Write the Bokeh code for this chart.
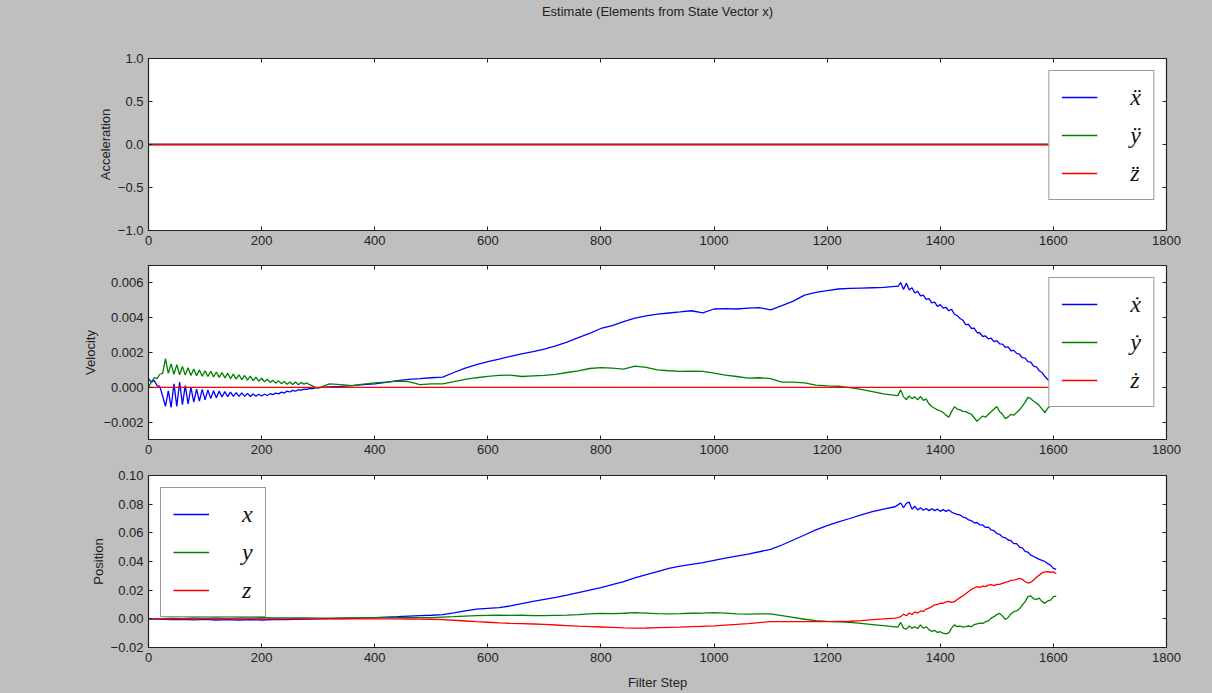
from bokeh.plotting import figure
from bokeh.layouts import column
from bokeh.models import Range1d, FixedTicker, LinearAxis, CustomJSTickFormatter, CustomLabelingPolicy
from bokeh.embed import file_html
from bokeh.resources import INLINE

# ---------------- data (velocity / position values are in thousandths) ----------------
SCALE = 1e-3

x_ticks = [0, 200, 400, 600, 800, 1000, 1200, 1400, 1600, 1800]
acc_ticks = [-1.0, -0.5, 0.0, 0.5, 1.0]
vel_ticks = [-0.002, 0.0, 0.002, 0.004, 0.006]
pos_ticks = [-0.02, 0.0, 0.02, 0.04, 0.06, 0.08, 0.10]

acc_steps = [0, 1605]
acc_x = [0.0, 0.0]
acc_y = [0.0, 0.0]
acc_z = [0.0, 0.0]

vel_steps_early = list(range(0, 301, 5))
vel_steps_mid = list(range(320, 1321, 20))
vel_steps_late = list(range(1325, 1606, 5))

vx_early = [0.50, 0.30, 0.40, 0.10, 0.05, -0.50, -1.10, -0.20, -1.15, 0.20, -1.10, 0.30, -1.00, 0.10, -0.95,
            0.00, -0.85, -0.10, -0.80, -0.12, -0.72, -0.15, -0.65, -0.20, -0.60, -0.22, -0.56, -0.25, -0.54,
            -0.28, -0.52, -0.30, -0.52, -0.32, -0.52, -0.35, -0.53, -0.38, -0.52, -0.40, -0.50, -0.40, -0.47,
            -0.37, -0.42, -0.33, -0.38, -0.28, -0.33, -0.22, -0.27, -0.18, -0.22, -0.14, -0.16, -0.10, -0.12,
            -0.06, -0.07, -0.03, -0.02]
vx_mid = [0.02, 0.05, 0.10, 0.15, 0.20, 0.28, 0.38, 0.46, 0.50, 0.55, 0.58, 0.85, 1.10, 1.30, 1.48, 1.62,
          1.78, 1.92, 2.05, 2.20, 2.38, 2.60, 2.85, 3.10, 3.38, 3.55, 3.78, 3.98, 4.10, 4.20, 4.27, 4.33, 4.40,
          4.28, 4.50, 4.52, 4.50, 4.55, 4.58, 4.45, 4.70, 4.95, 5.30, 5.45, 5.55, 5.65, 5.68, 5.70, 5.72, 5.74,
          5.80]
vx_late = [5.80, 6.02, 5.62, 5.98, 5.60, 5.72, 5.42, 5.52, 5.25, 5.30, 5.05, 5.10, 4.85, 4.90, 4.65, 4.75,
           4.55, 4.60, 4.40, 4.48, 4.20, 4.12, 3.95, 3.85, 3.60, 3.62, 3.38, 3.40, 3.15, 3.12, 2.92, 2.95, 2.78,
           2.82, 2.62, 2.68, 2.50, 2.48, 2.30, 2.32, 2.10, 2.12, 1.95, 1.90, 1.70, 1.68, 1.48, 1.45, 1.22, 1.18,
           0.95, 0.85, 0.62, 0.45, 0.30, 0.20, 0.10]

vy_early = [0.00, 0.30, 0.55, 0.50, 0.75, 0.80, 1.65, 0.80, 1.35, 0.75, 1.30, 0.72, 1.20, 0.70, 1.12, 0.68,
            1.05, 0.66, 1.00, 0.64, 0.95, 0.62, 0.92, 0.60, 0.88, 0.57, 0.85, 0.54, 0.80, 0.50, 0.76, 0.47,
            0.72, 0.44, 0.68, 0.41, 0.64, 0.38, 0.58, 0.35, 0.52, 0.32, 0.46, 0.28, 0.41, 0.24, 0.37, 0.21,
            0.34, 0.18, 0.31, 0.16, 0.30, 0.15, 0.28, 0.18, 0.25, 0.15, 0.08, 0.00, -0.05]
vy_mid = [0.20, 0.15, 0.10, 0.18, 0.25, 0.30, 0.35, 0.33, 0.15, 0.20, 0.20, 0.32, 0.45, 0.55, 0.63, 0.68,
          0.70, 0.62, 0.66, 0.68, 0.74, 0.85, 0.95, 1.08, 1.13, 1.10, 1.05, 1.22, 1.15, 1.00, 0.95, 0.92, 0.93,
          0.92, 0.82, 0.70, 0.62, 0.53, 0.55, 0.50, 0.30, 0.30, 0.25, 0.12, 0.08, 0.06, -0.02, -0.12, -0.25,
          -0.38, -0.46]
vy_late = [-0.48, -0.15, -0.55, -0.70, -0.50, -0.65, -0.55, -0.72, -0.52, -0.75, -0.68, -0.95, -1.10, -1.20,
           -1.30, -1.35, -1.45, -1.60, -1.72, -1.40, -1.12, -1.25, -1.30, -1.38, -1.40, -1.48, -1.55, -1.75,
           -1.95, -1.80, -1.65, -1.72, -1.55, -1.40, -1.25, -1.10, -1.40, -1.55, -1.80, -1.70, -1.55, -1.60,
           -1.45, -1.30, -1.10, -0.85, -0.58, -0.65, -0.80, -0.90, -1.05, -1.25, -1.45, -1.20, -1.05, -0.90,
           -0.80]

vz_steps = [0, 1605]
vz = [0.0, 0.0]

pos_steps_early = list(range(0, 501, 20))
pos_steps_mid = list(range(520, 1321, 20))
pos_steps_late = list(range(1325, 1606, 5))

px_early = [0.0, -0.2, -0.6, -0.3, -0.7, -0.4, -0.8, -0.5, -0.8, -0.5, -0.8, -0.5, -0.6, -0.3, -0.2, 0.0,
            0.1, 0.2, 0.4, 0.6, 0.9, 1.2, 1.5, 1.9, 2.2, 2.5]
px_mid = [3.0, 4.2, 5.6, 6.8, 7.3, 7.8, 9.0, 10.6, 12.2, 13.6, 15.0, 16.6, 18.3, 20.0, 21.8, 23.9, 25.9, 28.5,
          30.8, 33.0, 35.2, 36.8, 38.0, 39.2, 40.8, 42.3, 43.8, 45.2, 46.8, 48.5, 51.5, 55.0, 58.5, 62.0, 65.0,
          67.6, 70.0, 72.5, 74.8, 76.5, 78.2]
px_late = [79.5, 80.8, 77.5, 80.5, 81.5, 76.5, 78.5, 76.0, 77.5, 75.8, 77.0, 75.5, 76.8, 75.5, 76.5, 75.0,
           76.2, 75.0, 76.0, 74.5, 73.5, 72.8, 72.5, 71.0, 70.5, 69.0, 68.5, 67.0, 67.2, 65.5, 65.5, 63.8, 64.0,
           62.0, 61.5, 59.5, 59.0, 57.0, 56.5, 55.0, 54.5, 52.5, 52.5, 50.0, 49.5, 47.0, 46.5, 44.5, 43.5, 42.5,
           41.5, 40.8, 40.0, 38.5, 37.5, 35.2, 34.5]

py_early = [0.0, 0.2, 0.5, 0.3, 0.6, 0.4, 0.7, 0.5, 0.7, 0.6, 0.8, 0.6, 0.7, 0.6, 0.6, 0.4, 0.5, 0.6, 0.6,
            0.7, 0.8, 0.9, 0.9, 1.0, 0.8, 0.9]
py_mid = [1.2, 1.5, 1.9, 2.2, 2.4, 2.5, 2.4, 2.5, 2.3, 2.2, 2.4, 2.6, 3.0, 3.5, 3.8, 3.6, 3.9, 4.4, 4.0, 3.6,
          3.4, 3.6, 3.9, 4.0, 4.3, 4.0, 3.5, 3.3, 3.5, 3.4, 2.2, 1.0, -0.3, -1.3, -1.8, -2.1, -2.5, -3.2, -4.0,
          -4.8, -5.6]
py_late = [-5.8, -2.5, -6.5, -7.2, -5.0, -6.5, -5.5, -6.8, -4.2, -6.5, -5.5, -7.5, -8.8, -8.0, -9.5, -9.0,
           -10.0, -10.5, -9.8, -6.5, -4.2, -5.5, -5.0, -5.8, -5.5, -5.0, -5.5, -4.0, -3.5, -3.0, -3.2, -2.0,
           -1.5, 0.5, 1.5, 3.0, 3.8, 2.0, -0.5, 1.0, 3.5, 5.0, 5.5, 7.0, 9.5, 12.0, 15.5, 16.0, 14.0, 13.5,
           14.5, 12.0, 10.8, 12.5, 13.0, 15.5, 15.8]

pz_early = [0.0, 0.0, 0.0, 0.0, 0.0, 0.0, 0.0, 0.0, 0.0, 0.0, 0.0, 0.0, 0.0, 0.0, 0.0, 0.0, 0.0, 0.0, 0.0,
            0.0, 0.0, 0.0, 0.0, -0.1, -0.2, -0.3]
pz_mid = [-0.6, -1.0, -1.5, -2.0, -2.4, -2.8, -3.1, -3.3, -3.6, -3.9, -4.3, -4.7, -5.1, -5.4, -5.7, -6.0,
          -6.3, -6.5, -6.4, -6.2, -6.0, -5.8, -5.5, -5.2, -4.9, -4.4, -3.9, -3.3, -2.6, -2.0, -1.9, -2.0, -2.0,
          -1.9, -1.9, -1.8, -1.7, -1.2, -0.6, 0.0, 0.5]
pz_late = [0.8, 1.5, 3.2, 2.2, 4.0, 3.0, 4.8, 4.0, 5.5, 5.2, 6.8, 7.5, 8.5, 9.8, 10.0, 11.0, 10.8, 11.8, 12.2,
           11.5, 12.0, 13.5, 14.8, 16.0, 17.5, 19.0, 20.5, 21.5, 22.5, 22.0, 22.8, 22.5, 23.5, 23.8, 23.2, 24.0,
           24.0, 24.8, 25.5, 26.0, 26.8, 27.0, 27.5, 28.2, 27.5, 26.0, 25.0, 25.5, 27.0, 29.0, 30.5, 32.0, 32.8,
           33.0, 32.5, 32.8, 31.5]

TITLE = "Estimate (Elements from State Vector x)"

# ---------------- assembled series ----------------
vel_steps = vel_steps_early + vel_steps_mid + vel_steps_late
vel_x = [v * SCALE for v in vx_early + vx_mid + vx_late]
vel_y = [v * SCALE for v in vy_early + vy_mid + vy_late]
pos_steps = pos_steps_early + pos_steps_mid + pos_steps_late
pos_x = [v * SCALE for v in px_early + px_mid + px_late]
pos_y = [v * SCALE for v in py_early + py_mid + py_late]
pos_z = [v * SCALE for v in pz_early + pz_mid + pz_late]

# ---------------- style ----------------
BLUE, GREEN, RED = "#0000ff", "#008000", "#ff0000"
GRAY, INK = "#bfbfbf", "#222222"
FONT = "Liberation Sans"
LW = 1.3

NO_LABELS = "for (const i of [...indices]) { indices.unset(i) }"


def style_axis(ax, hidden=False):
    ax.major_tick_in = 4
    ax.major_tick_out = 0
    ax.minor_tick_in = 0
    ax.minor_tick_out = 0
    ax.axis_line_color = INK
    ax.major_tick_line_color = INK
    ax.major_label_text_font = FONT
    if hidden:
        # tick marks only: no tick labels are drawn on this side
        ax.major_label_policy = CustomLabelingPolicy(code=NO_LABELS)
        ax.major_label_text_font_size = "1px"
        ax.major_label_standoff = 0
    else:
        ax.major_label_text_color = INK
        ax.major_label_text_font_size = "13px"
        ax.major_label_standoff = 5
    ax.axis_label_text_font = FONT
    ax.axis_label_text_font_style = "normal"
    ax.axis_label_text_font_size = "13px"
    ax.axis_label_text_color = INK
    ax.axis_label_standoff = 2


def make_fig(ylim, yticks, ydec, ylabel, top, bottom, frame_h, xlabel=None, title=None):
    p = figure(frame_width=1018, frame_height=frame_h,
               min_border_left=148, min_border_right=46,
               min_border_top=top, min_border_bottom=bottom,
               x_range=Range1d(0, 1800), y_range=Range1d(ylim[0], ylim[1]),
               output_backend="svg", toolbar_location=None,
               background_fill_color="white", border_fill_color=GRAY,
               outline_line_color=INK, outline_line_width=1.2)
    p.grid.grid_line_color = None
    fmt = CustomJSTickFormatter(args=dict(d=ydec),
                                code="return tick.toFixed(d).replace('-', '\\u2212');")
    p.xaxis.ticker = FixedTicker(ticks=x_ticks)
    p.yaxis.ticker = FixedTicker(ticks=yticks)
    p.yaxis.formatter = fmt
    p.yaxis.axis_label = ylabel
    if xlabel:
        p.xaxis.axis_label = xlabel
    for ax in p.xaxis + p.yaxis:
        style_axis(ax)
    p.xaxis.axis_label_standoff = 10
    ax_r = LinearAxis(ticker=FixedTicker(ticks=yticks))
    style_axis(ax_r, hidden=True)
    p.add_layout(ax_r, "right")
    ax_t = LinearAxis(ticker=FixedTicker(ticks=x_ticks))
    style_axis(ax_t, hidden=True)
    if title:
        # the chart title sits above the frame, centred on it
        ax_t.axis_label = title
        ax_t.axis_label_standoff = 36
        ax_t.axis_label_text_font_size = "13px"
    p.add_layout(ax_t, "above")
    return p


def style_legend(p, loc):
    lg = p.legend[0]
    lg.location = loc
    lg.margin = 12
    lg.padding = 12
    lg.spacing = 10
    lg.glyph_width = 36
    lg.glyph_height = 28
    lg.label_height = 28
    lg.label_width = 10
    lg.label_standoff = 33
    lg.label_text_font = "Liberation Serif"
    lg.label_text_font_style = "italic"
    lg.label_text_font_size = "24px"
    lg.label_text_color = "#111111"
    lg.border_line_color = "#333333"
    lg.border_line_width = 1.2
    lg.background_fill_color = "white"
    lg.background_fill_alpha = 1.0


# top: acceleration
p1 = make_fig((-1.0, 1.0), acc_ticks, 1, "Acceleration", 58, 22, 172, title=TITLE)
p1.line(acc_steps, acc_x, color=BLUE, line_width=LW, legend_label="\u1E8D")
p1.line(acc_steps, acc_y, color=GREEN, line_width=LW, legend_label="\u00FF")
p1.line(acc_steps, acc_z, color=RED, line_width=LW, legend_label="z\u0308")
style_legend(p1, "top_right")

# middle: velocity
p2 = make_fig((-0.003, 0.007), vel_ticks, 3, "Velocity", 13, 22, 174)
p2.line(vel_steps, vel_x, color=BLUE, line_width=LW, legend_label="\u1E8B")
p2.line(vel_steps, vel_y, color=GREEN, line_width=LW, legend_label="\u1E8F")
p2.line(vz_steps, vz, color=RED, line_width=LW, legend_label="\u017C")
style_legend(p2, "top_right")

# bottom: position
p3 = make_fig((-0.02, 0.10), pos_ticks, 2, "Position", 14, 43, 172, xlabel="Filter Step")
p3.line(pos_steps, pos_x, color=BLUE, line_width=LW, legend_label="x")
p3.line(pos_steps, pos_y, color=GREEN, line_width=LW, legend_label="y")
p3.line(pos_steps, pos_z, color=RED, line_width=LW, legend_label="z")
style_legend(p3, "top_left")

layout = column(p1, p2, p3, spacing=0)

TEMPLATE = """
{% block postamble %}
<style>
html, body { margin: 0 !important; padding: 0 !important; background: #bfbfbf !important; overflow: hidden; }
</style>
{% endblock %}
"""

open("out.html", "w").write(file_html(layout, INLINE, title="Estimate", template=TEMPLATE))
